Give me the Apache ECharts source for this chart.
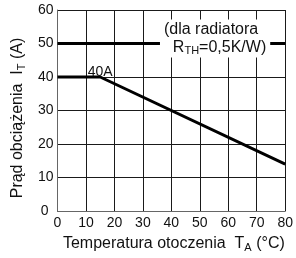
<!DOCTYPE html>
<html lang="pl">
<head>
  <meta charset="UTF-8">
  <title>Prąd obciążenia</title>
  <style>
    html, body { margin: 0; padding: 0; background: #fff; }
    #main { width: 296px; height: 258px; }
  </style>
</head>
<body>
  <div id="main"></div>
  <script src="https://cdn.jsdelivr.net/npm/echarts@6/dist/echarts.min.js"></script>
  <script>
    // dane
    const xTicks = [0, 10, 20, 30, 40, 50, 60, 70, 80];
    const yTicks = [0, 10, 20, 30, 40, 50, 60];
    const deratingCurve = [[0, 40], [15, 40], [80, 14]];
    const limitLine = [[0, 50], [80, 50]];
    const kneePoint = [15, 40];
    const kneeText = '40A';
    const notePoint = [36, 50];

    const font = 'Liberation Sans, Arial, sans-serif';
    const ink = '#111';

    const chart = echarts.init(document.getElementById('main'));
    chart.setOption({
      animation: false,
      grid: { left: 57.5, right: 8.3, top: 10, bottom: 46 },
      xAxis: {
        type: 'value',
        min: xTicks[0],
        max: xTicks[xTicks.length - 1],
        interval: 10,
        name: 'Temperatura otoczenia  T{sub|A} (°C)',
        nameLocation: 'middle',
        nameGap: 24,
        nameTextStyle: {
          fontFamily: font, fontSize: 16, color: ink, lineHeight: 18,
          padding: [0, 0, 0, 5],
          rich: { sub: { fontFamily: font, fontSize: 11, color: ink, lineHeight: 8, verticalAlign: 'bottom' } }
        },
        axisLine: { lineStyle: { color: '#666', width: 1 } },
        axisTick: { show: false },
        axisLabel: { fontFamily: font, fontSize: 14, color: ink, margin: 5 },
        splitLine: { lineStyle: { color: '#1a1a1a', width: 1 } }
      },
      yAxis: {
        type: 'value',
        min: yTicks[0],
        max: yTicks[yTicks.length - 1],
        interval: 10,
        name: 'Prąd obciążenia  I{sub|T} (A)',
        nameLocation: 'middle',
        nameGap: 27,
        nameTextStyle: {
          fontFamily: font, fontSize: 16, color: ink, lineHeight: 18,
          padding: [0, 15, 0, 0],
          rich: { sub: { fontFamily: font, fontSize: 11, color: ink, lineHeight: 8, verticalAlign: 'bottom' } }
        },
        axisLine: { show: true, lineStyle: { color: '#666', width: 1 } },
        axisTick: { show: false },
        axisLabel: {
          fontFamily: font, fontSize: 14, color: ink, margin: 4,
          formatter: function (v) { return v === 0 ? '{z|0}' : String(v); },
          rich: { z: { fontFamily: font, fontSize: 14, color: ink, padding: [0, 5, 0, 0] } }
        },
        splitLine: { lineStyle: { color: '#1a1a1a', width: 1 } }
      },
      series: [
        {
          type: 'line',
          data: limitLine,
          symbol: 'none',
          lineStyle: { color: '#000', width: 3 },
          z: 3,
          markPoint: {
            symbol: 'circle',
            symbolSize: 0,
            silent: true,
            data: [{
              coord: notePoint,
              label: {
                show: true,
                position: 'right',
                distance: 0,
                offset: [0, -5],
                align: 'left',
                backgroundColor: '#fff',
                padding: [1, 4, 1, 4],
                fontFamily: font,
                fontSize: 16,
                color: ink,
                lineHeight: 18,
                formatter: '(dla radiatora\n  R{sub|TH}=0,5K/W)',
                rich: { sub: { fontFamily: font, fontSize: 11, color: ink, lineHeight: 8, verticalAlign: 'bottom' } }
              }
            }]
          }
        },
        {
          type: 'line',
          data: deratingCurve,
          symbol: 'none',
          lineStyle: { color: '#000', width: 3 },
          z: 3,
          markPoint: {
            symbol: 'circle',
            symbolSize: 0,
            silent: true,
            data: [{
              coord: kneePoint,
              label: {
                show: true,
                position: 'top',
                distance: 0,
                offset: [0, 2],
                fontFamily: font,
                fontSize: 14,
                color: ink,
                formatter: kneeText
              }
            }]
          }
        }
      ]
    });
  </script>
</body>
</html>
